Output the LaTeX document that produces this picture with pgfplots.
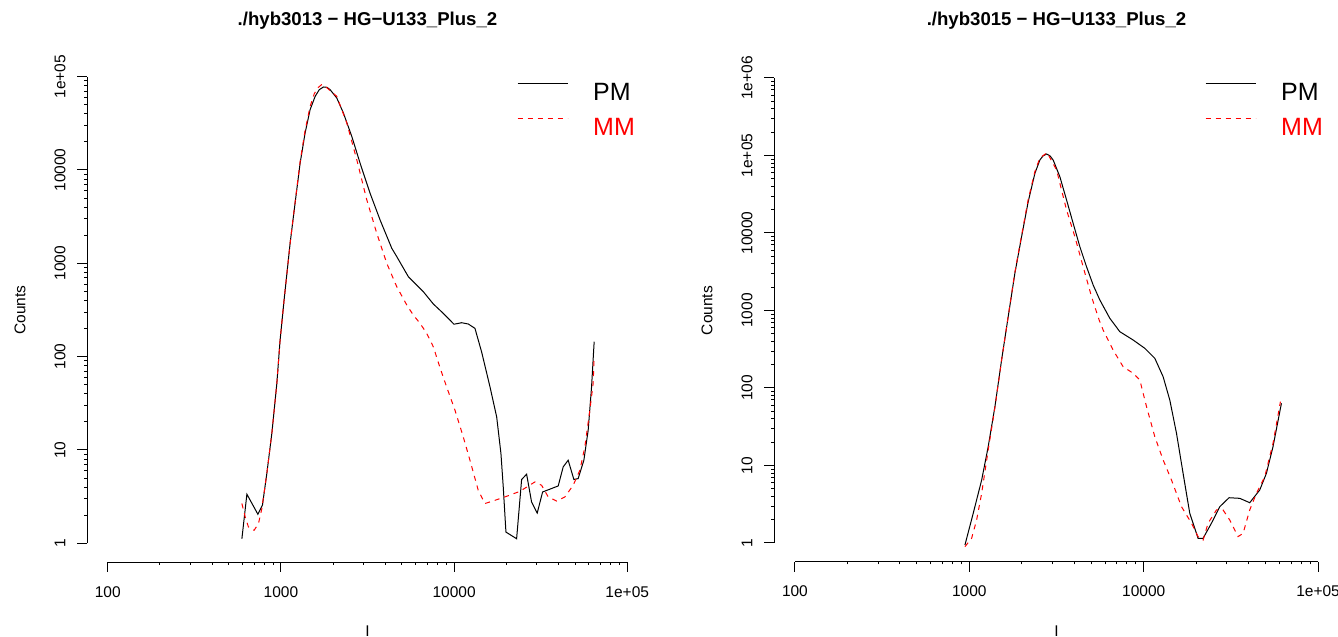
\documentclass[border=0pt]{standalone}
\usepackage{fontspec}
\setmainfont{Liberation Sans}
\usepackage{pgfplots}
\pgfplotsset{compat=1.18}

\newcommand{\tickfont}{\fontsize{15.5bp}{18bp}\selectfont}
\newcommand{\titlefont}{\fontsize{18.6bp}{22bp}\selectfont\bfseries}
\tikzset{
  lab/.style={font=\tickfont, inner sep=0pt, anchor=center},
  ylab/.style={font=\tickfont, inner sep=0pt, anchor=center, xshift=-27bp, rotate=90},
  pm/.style={black, line width=1bp},
  mm/.style={red, line width=1bp, dash pattern=on 5bp off 5bp},
}

\begin{document}
\begin{tikzpicture}
\useasboundingbox (0bp,0bp) rectangle (1338bp,637bp);

% left panel
\begin{axis}[scale only axis, anchor=south west, at={(87bp,75bp)}, width=561bp, height=504bp,
  xmode=log, ymode=log, xmin=75.86, xmax=131826, ymin=0.631, ymax=158489,
  axis x line*=bottom, axis y line*=left, axis line style={draw=none},
  tick align=outside, major tick length=10bp, tick style={black, line width=1bp},
  xtick={100,1000,10000,100000}, ytick={1,10,100,1000,10000,100000},
  xticklabels={}, yticklabels={}, clip=false,
  legend cell align=left,
  legend image code/.code={\draw[#1] (0bp,9bp) -- (50bp,9bp);},
  legend style={at={(axis description cs:0.7665,0.9504)}, anchor=north west, draw=none, fill=none, inner sep=0pt,
    font=\fontsize{25bp}{30bp}\selectfont, row sep=16bp, column sep=25bp, nodes={inner sep=0pt}}]
\addplot[pm] coordinates {(595,1.12)(636,3.36)(736,2.05)(782,2.56)(829,5.6)(886,15.0)(947,51.7)(989,150.7)(1043,405)(1130,1643)(1207,4415)(1291,11860)(1379,24890)(1474,44260)(1576,61480)(1665,72500)(1759,77500)(1845,76800)(1923,72560)(2102,59060)(2295,40800)(2566,22880)(2864,11860)(3271,5650)(3736,2923)(4365,1452)(4666,1180)(5442,720)(6643,497)(7586,367)(8664,291)(9987,222.6)(11060,231)(12080,223.8)(13200,201)(14430,112)(16120,47.5)(17620,22.65)(18650,9.17)(19230,4.02)(19930,1.32)(22970,1.12)(24550,4.83)(26240,5.50)(28030,2.77)(30210,2.11)(32450,3.55)(39940,4.12)(42670,6.59)(45600,7.77)(49190,4.83)(52080,4.94)(56180,7.77)(59500,16.3)(62230,47.5)(64420,144.5)};
\addlegendentry{PM}
\addplot[mm] coordinates {(595,2.67)(621.5,1.92)(649,1.50)(700,1.38)(742,1.63)(776,2.36)(829,5.6)(886,15.0)(947,51.7)(989,150.7)(1043,405)(1130,1650)(1207,4500)(1291,12300)(1379,26500)(1474,48000)(1560,66000)(1640,76500)(1718,82070)(1790,80500)(1850,75500)(2102,61480)(2401,31850)(2742,12860)(3132,4790)(3576,2103)(4084,1002)(4666,562)(5328,358)(5816,279)(6358,227.6)(6950,177.8)(7586,127.7)(8290,76.4)(9065,47.2)(10120,26.7)(11300,13.8)(12350,7.77)(13790,3.70)(15080,2.67)(17220,2.89)(20120,3.19)(24010,3.61)(29300,4.55)(32030,4.19)(34970,3.14)(39090,2.84)(43640,3.14)(48730,4.19)(53280,6.07)(56920,10.8)(60830,26.7)(63570,51.7)(64420,99.8)};
\addlegendentry[text=red]{MM}
\draw[line width=1bp] ({axis cs:100,1}|-{rel axis cs:0,0}) -- ({axis cs:100000,1}|-{rel axis cs:0,0});
\draw[line width=1bp] ({rel axis cs:0,0}|-{axis cs:100,1}) -- ({rel axis cs:0,0}|-{axis cs:100,100000});
\path ({axis cs:100,1}|-{rel axis cs:0,0}) node[lab, yshift=-30bp] {100};
\path ({axis cs:1000,1}|-{rel axis cs:0,0}) node[lab, yshift=-30bp] {1000};
\path ({axis cs:10000,1}|-{rel axis cs:0,0}) node[lab, yshift=-30bp] {10000};
\path ({axis cs:100000,1}|-{rel axis cs:0,0}) node[lab, yshift=-30bp] {1e+05};
\path ({rel axis cs:0,0}|-{axis cs:100,1}) node[ylab] {1};
\path ({rel axis cs:0,0}|-{axis cs:100,10}) node[ylab] {10};
\path ({rel axis cs:0,0}|-{axis cs:100,100}) node[ylab] {100};
\path ({rel axis cs:0,0}|-{axis cs:100,1000}) node[ylab] {1000};
\path ({rel axis cs:0,0}|-{axis cs:100,10000}) node[ylab] {10000};
\path ({rel axis cs:0,0}|-{axis cs:100,100000}) node[ylab] {1e+05};
\end{axis}

% right panel
\begin{axis}[scale only axis, anchor=south west, at={(774bp,75.4bp)}, width=565bp, height=502.2bp,
  xmode=log, ymode=log, xmin=75.86, xmax=131826, ymin=0.5754, ymax=1737801,
  axis x line*=bottom, axis y line*=left, axis line style={draw=none},
  tick align=outside, major tick length=10bp, tick style={black, line width=1bp},
  xtick={100,1000,10000,100000}, ytick={1,10,100,1000,10000,100000,1000000},
  xticklabels={}, yticklabels={}, clip=false,
  legend cell align=left,
  legend image code/.code={\draw[#1] (0bp,9bp) -- (50bp,9bp);},
  legend style={at={(axis description cs:0.7628,0.953)}, anchor=north west, draw=none, fill=none, inner sep=0pt,
    font=\fontsize{25bp}{30bp}\selectfont, row sep=16bp, column sep=25bp, nodes={inner sep=0pt}}]
\addplot[pm] coordinates {(943.7,0.942)(1053,2.42)(1177,6.50)(1283,17.5)(1402,57.4)(1531,229.7)(1671,832)(1825,3020)(1994,8955)(2176,25350)(2377,58900)(2539,87500)(2650,99000)(2773,104500)(2900,99000)(3026,87500)(3305,53290)(3611,26670)(3939,13340)(4303,6657)(4700,3674)(5129,2133)(5603,1366)(6393,793)(7295,532.7)(8697,416)(10150,325)(11580,241.6)(12920,139.9)(14110,70.0)(15420,26.0)(16820,7.93)(18370,2.42)(20500,1.15)(21900,1.15)(24460,1.80)(27300,2.94)(30860,3.84)(35540,3.77)(40550,3.31)(46280,4.83)(50540,7.93)(55140,17.5)(61630,63.5)};
\addlegendentry{PM}
\addplot[mm] coordinates {(943.7,0.896)(1031,1.15)(1101,1.98)(1177,4.38)(1283,15.85)(1402,56)(1531,228)(1671,840)(1825,3100)(1994,9300)(2176,27000)(2377,62000)(2539,93000)(2795,108700)(3165,65000)(3611,19810)(4029,8955)(4494,3674)(5022,1507)(5551,754)(5853,560)(6676,309)(7619,188.3)(8697,154.8)(9500,126.8)(10380,57.4)(11580,23.5)(12920,11.8)(14430,6.50)(16470,2.94)(18790,1.80)(20500,1.21)(21900,1.09)(23390,1.80)(26140,2.67)(28510,2.67)(31140,1.98)(34760,1.21)(37130,1.33)(40550,2.67)(44310,4.38)(49430,7.17)(55140,19.3)(60810,66.6)};
\addlegendentry[text=red]{MM}
\draw[line width=1bp] ({axis cs:100,1}|-{rel axis cs:0,0}) -- ({axis cs:100000,1}|-{rel axis cs:0,0});
\draw[line width=1bp] ({rel axis cs:0,0}|-{axis cs:100,1}) -- ({rel axis cs:0,0}|-{axis cs:100,1000000});
\path ({axis cs:100,1}|-{rel axis cs:0,0}) node[lab, yshift=-30bp] {100};
\path ({axis cs:1000,1}|-{rel axis cs:0,0}) node[lab, yshift=-30bp] {1000};
\path ({axis cs:10000,1}|-{rel axis cs:0,0}) node[lab, yshift=-30bp] {10000};
\path ({axis cs:100000,1}|-{rel axis cs:0,0}) node[lab, yshift=-30bp] {1e+05};
\path ({rel axis cs:0,0}|-{axis cs:100,1}) node[ylab] {1};
\path ({rel axis cs:0,0}|-{axis cs:100,10}) node[ylab] {10};
\path ({rel axis cs:0,0}|-{axis cs:100,100}) node[ylab] {100};
\path ({rel axis cs:0,0}|-{axis cs:100,1000}) node[ylab] {1000};
\path ({rel axis cs:0,0}|-{axis cs:100,10000}) node[ylab] {10000};
\path ({rel axis cs:0,0}|-{axis cs:100,100000}) node[ylab] {1e+05};
\path ({rel axis cs:0,0}|-{axis cs:100,1000000}) node[ylab] {1e+06};
\end{axis}

% titles and axis labels
\node[font=\titlefont] at (367.5bp,616.5bp) {./hyb3013 − HG−U133\_Plus\_2};
\node[font=\titlefont] at (1056.5bp,616.5bp) {./hyb3015 − HG−U133\_Plus\_2};
\node[font=\tickfont, rotate=90, inner sep=0pt] at (20bp,327bp) {Counts};
\node[font=\tickfont, rotate=90, inner sep=0pt] at (707bp,326.5bp) {Counts};
\node[font=\tickfont, inner sep=0pt, anchor=base] at (367.5bp,1bp) {I};
\node[font=\tickfont, inner sep=0pt, anchor=base] at (1056.5bp,1bp) {I};
\end{tikzpicture}
\end{document}
